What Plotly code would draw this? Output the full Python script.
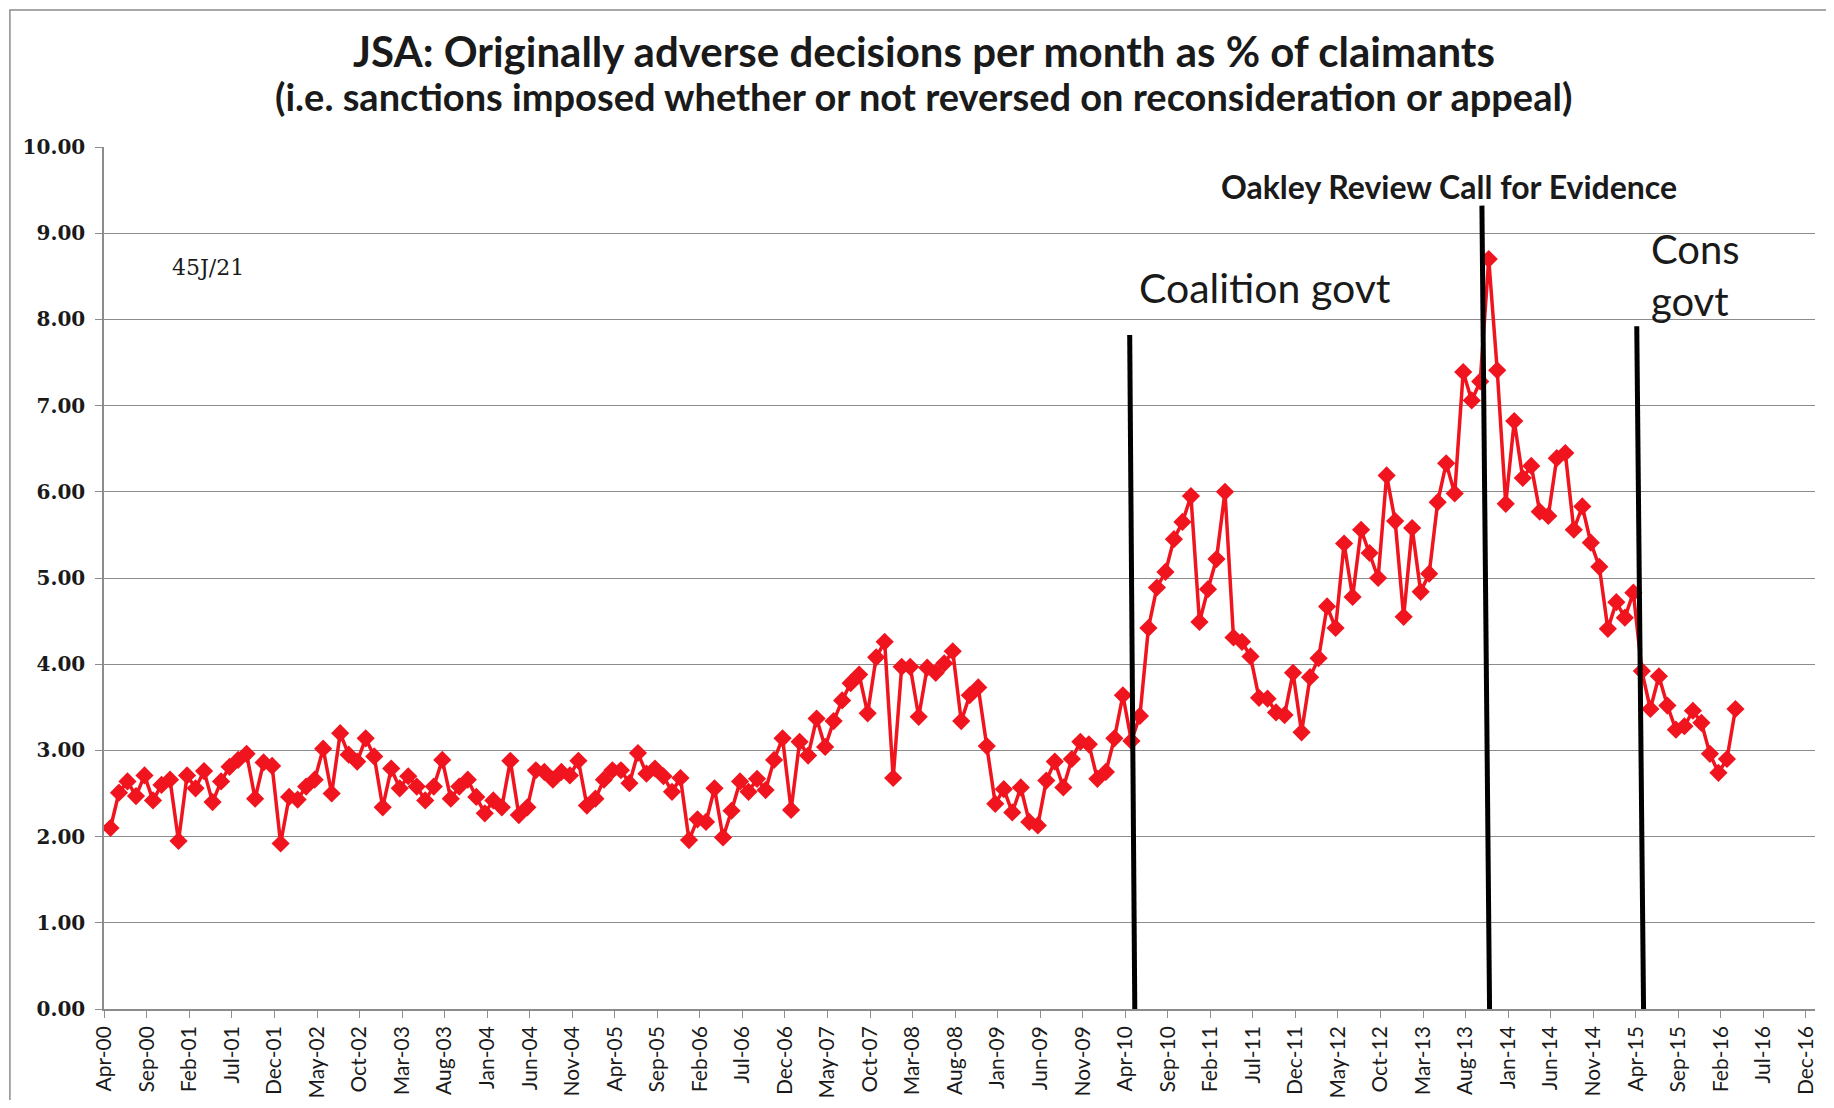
import plotly.graph_objects as go

# Monthly series, Apr-00 .. Mar-16 (month index 0 = Apr-00)
values = [
    2.10, 2.51, 2.64, 2.47, 2.71, 2.42, 2.60, 2.66, 1.95, 2.71, 2.56, 2.76,
    2.40, 2.64, 2.81, 2.89, 2.96, 2.44, 2.86, 2.82, 1.92, 2.46, 2.43, 2.58,
    2.66, 3.02, 2.50, 3.20, 2.95, 2.87, 3.14, 2.93, 2.34, 2.79, 2.56, 2.70,
    2.58, 2.42, 2.58, 2.89, 2.44, 2.58, 2.66, 2.46, 2.27, 2.42, 2.34, 2.88,
    2.25, 2.34, 2.77, 2.75, 2.66, 2.75, 2.71, 2.88, 2.36, 2.44, 2.66, 2.77,
    2.77, 2.62, 2.97, 2.73, 2.79, 2.70, 2.52, 2.68, 1.96, 2.20, 2.17, 2.56,
    1.99, 2.30, 2.64, 2.52, 2.67, 2.54, 2.89, 3.14, 2.31, 3.10, 2.94, 3.37,
    3.04, 3.34, 3.58, 3.78, 3.88, 3.43, 4.08, 4.26, 2.68, 3.97, 3.97, 3.39,
    3.96, 3.90, 4.01, 4.15, 3.34, 3.64, 3.73, 3.05, 2.38, 2.55, 2.28, 2.57,
    2.17, 2.13, 2.65, 2.87, 2.57, 2.90, 3.10, 3.07, 2.67, 2.75, 3.14, 3.64,
    3.11, 3.40, 4.42, 4.89, 5.07, 5.45, 5.65, 5.95, 4.49, 4.87, 5.22, 6.00,
    4.31, 4.26, 4.09, 3.61, 3.60, 3.44, 3.41, 3.90, 3.21, 3.85, 4.07, 4.67,
    4.42, 5.40, 4.78, 5.56, 5.29, 5.00, 6.19, 5.66, 4.55, 5.58, 4.84, 5.05,
    5.88, 6.33, 5.98, 7.39, 7.06, 7.28, 8.70, 7.41, 5.86, 6.82, 6.16, 6.30,
    5.77, 5.72, 6.39, 6.45, 5.56, 5.83, 5.41, 5.13, 4.41, 4.72, 4.54, 4.83,
    3.92, 3.48, 3.86, 3.52, 3.24, 3.28, 3.46, 3.32, 2.96, 2.74, 2.90, 3.48,
]
months = list(range(len(values)))

tick_labels = [
    "Apr-00", "Sep-00", "Feb-01", "Jul-01", "Dec-01", "May-02", "Oct-02",
    "Mar-03", "Aug-03", "Jan-04", "Jun-04", "Nov-04", "Apr-05", "Sep-05",
    "Feb-06", "Jul-06", "Dec-06", "May-07", "Oct-07", "Mar-08", "Aug-08",
    "Jan-09", "Jun-09", "Nov-09", "Apr-10", "Sep-10", "Feb-11", "Jul-11",
    "Dec-11", "May-12", "Oct-12", "Mar-13", "Aug-13", "Jan-14", "Jun-14",
    "Nov-14", "Apr-15", "Sep-15", "Feb-16", "Jul-16", "Dec-16",
]
tick_offset = -0.72
tick_vals = [5 * k + tick_offset for k in range(len(tick_labels))]

# Event markers (vertical lines) in month-index units
event_names = ["Coalition", "Oakley", "Cons"]
event_x_top = [119.8, 161.2, 179.4]
event_x_bottom = [120.4, 162.1, 180.2]
event_y_top = [7.82, 9.32, 7.92]

RED = "#F0141E"
GRID = "#8C8C8C"
TXT = "#1a1a1a"

fig = go.Figure()
fig.add_trace(go.Scatter(
    x=months, y=values, mode="lines+markers",
    line=dict(color=RED, width=3.5),
    marker=dict(symbol="diamond", size=14, color=RED),
    showlegend=False, hoverinfo="y",
))

shapes = []
for xt, xb, yt in zip(event_x_top, event_x_bottom, event_y_top):
    shapes.append(dict(type="line", xref="x", yref="y", x0=xt, y0=yt, x1=xb, y1=-0.02,
                       line=dict(color="black", width=5)))
# chart-area border
shapes.append(dict(type="rect", xref="paper", yref="paper", x0=-0.055, y0=-0.2,
                   x1=1.2, y1=1.159, line=dict(color=GRID, width=1.5), layer="below"))

annotations = [
    dict(text="<b>JSA: Originally adverse decisions per month as % of claimants</b>",
         xref="paper", yref="paper", x=0.479, y=1.1113, showarrow=False,
         font=dict(family="Lato", size=42, color=TXT), xanchor="center", yanchor="middle"),
    dict(text="<b>(i.e. sanctions imposed whether or not reversed on reconsideration or appeal)</b>",
         xref="paper", yref="paper", x=0.479, y=1.0587, showarrow=False,
         font=dict(family="Lato", size=38, color=TXT), xanchor="center", yanchor="middle"),
    dict(text="<b>Oakley Review Call for Evidence</b>", xref="x", yref="y", x=157.3, y=9.54,
         showarrow=False, font=dict(family="Lato", size=32, color=TXT),
         xanchor="center", yanchor="middle"),
    dict(text="Coalition govt", xref="x", yref="y", x=120.6, y=8.37, showarrow=False,
         font=dict(family="Lato", size=41, color=TXT), xanchor="left", yanchor="middle"),
    dict(text="Cons<br>govt", xref="x", yref="y", x=180.8, y=8.52, showarrow=False,
         font=dict(family="Lato", size=40, color=TXT), xanchor="left", yanchor="middle",
         align="left"),
    dict(text="45J/21", xref="x", yref="y", x=7.0, y=8.60, showarrow=False,
         font=dict(family="DejaVu Serif", size=22, color=TXT), xanchor="left", yanchor="middle"),
]

fig.update_layout(
    width=1818, height=1092,
    margin=dict(l=96, r=11, t=139, b=90.5),
    paper_bgcolor="white", plot_bgcolor="white",
    shapes=shapes, annotations=annotations,
    xaxis=dict(range=[-0.76, 200.35], tickmode="array", tickvals=tick_vals, ticktext=tick_labels,
               tickangle=-90, ticks="outside", ticklen=7, tickcolor=GRID, showgrid=False,
               showline=True, linecolor=GRID, linewidth=1.5, zeroline=False, automargin=False,
               tickfont=dict(family="Lato", size=21, color=TXT)),
    yaxis=dict(range=[0, 10], tickmode="linear", tick0=0, dtick=1, tickformat=".2f",
               ticks="outside", ticklen=7, tickcolor=GRID, showgrid=True, gridcolor=GRID,
               gridwidth=1, showline=True, linecolor=GRID, linewidth=1.5, zeroline=False,
               automargin=False, ticklabelstandoff=6,
               tickfont=dict(family="DejaVu Serif", size=20, color=TXT),
               tickprefix="<b>", ticksuffix="</b>"),
)

fig.write_html("out.html")
